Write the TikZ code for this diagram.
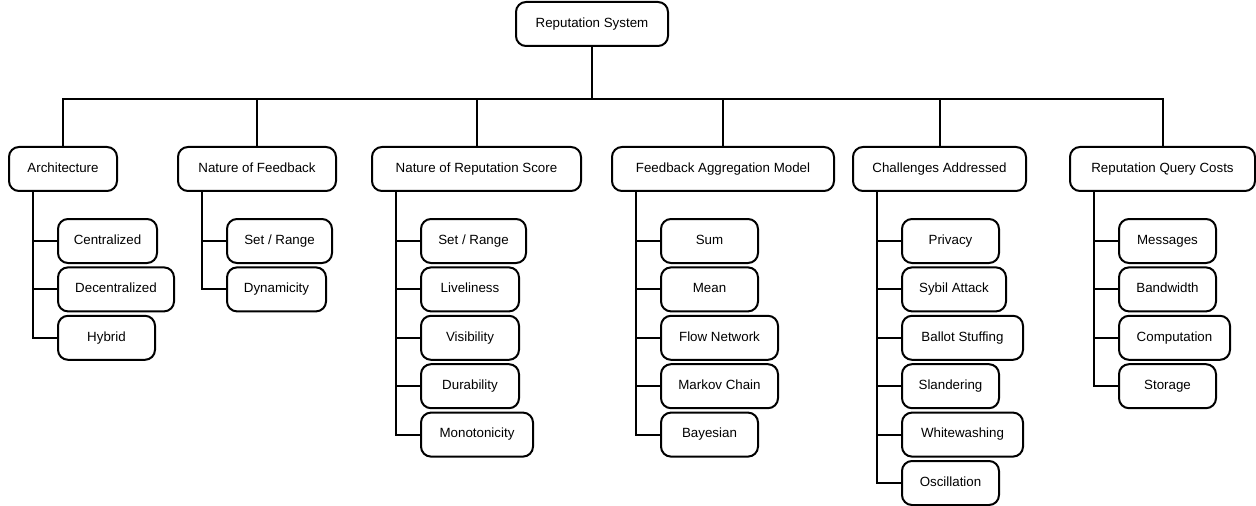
\documentclass[tikz,border=0pt]{standalone}
\usepackage{fontspec}
\setmainfont{Liberation Sans}
\usepackage{tikz}
\usetikzlibrary{positioning}

\tikzset{
  box/.style={draw, line width=1.5pt, rounded corners=7.5pt,
    minimum height=33pt, inner sep=0pt, text height=7.2pt, text depth=2.2pt,
    font=\fontsize{10}{12}\selectfont},
  leaf/.style={box, anchor=west},
  link/.style={line width=1.5pt}
}

\begin{document}
\begin{tikzpicture}[x=0.75pt, y=-0.75pt]
  \useasboundingbox (0,0) rectangle (1256,506);

  % Root
  \node[box, minimum width=114pt] (root) at (592,24) {Reputation System};
  \coordinate (bus) at (592,99);

  % Categories
  \node[box, minimum width=81pt]     (arch) at (63,169)    {Architecture};
  \node[box, minimum width=118.5pt]  (fb)   at (257,169)   {Nature of Feedback};
  \node[box, minimum width=156.75pt] (rs)   at (476.5,169) {Nature of Reputation Score};
  \node[box, minimum width=166.5pt]  (agg)  at (723,169)   {Feedback Aggregation Model};
  \node[box, minimum width=129.75pt] (chal) at (939.5,169) {Challenges Addressed};
  \node[box, minimum width=138.75pt] (cost) at (1162.5,169){Reputation Query Costs};

  % Tree bus
  \draw[link] (root.south) -- (bus);
  \foreach \p in {arch,fb,rs,agg,chal,cost}
    \draw[link] (\p.north) |- (bus);

  % Architecture
  \foreach \t/\w [count=\i] in {Centralized/99, Decentralized/116, Hybrid/97}
    \node[leaf, minimum width=\w*0.75pt] (arch-\i) at (57,{241+48.4*(\i-1)}) {\t};
  \foreach \i in {1,...,3}
    \draw[link] ([xshift=18.75pt]arch.south west) |- (arch-\i.west);

  % Nature of Feedback
  \foreach \t/\w [count=\i] in {{Set / Range}/105, Dynamicity/99}
    \node[leaf, minimum width=\w*0.75pt] (fb-\i) at (226,{241+48.4*(\i-1)}) {\t};
  \foreach \i in {1,2}
    \draw[link] ([xshift=18.75pt]fb.south west) |- (fb-\i.west);

  % Nature of Reputation Score
  \foreach \t/\w [count=\i] in {{Set / Range}/105, Liveliness/98, Visibility/98,
      Durability/98, Monotonicity/112}
    \node[leaf, minimum width=\w*0.75pt] (rs-\i) at (420,{241+48.4*(\i-1)}) {\t};
  \foreach \i in {1,...,5}
    \draw[link] ([xshift=18.75pt]rs.south west) |- (rs-\i.west);

  % Feedback Aggregation Model
  \foreach \t/\w [count=\i] in {Sum/97, Mean/97, Flow Network/117,
      Markov Chain/117, Bayesian/97}
    \node[leaf, minimum width=\w*0.75pt] (agg-\i) at (660,{241+48.4*(\i-1)}) {\t};
  \foreach \i in {1,...,5}
    \draw[link] ([xshift=18.75pt]agg.south west) |- (agg-\i.west);

  % Challenges Addressed
  \foreach \t/\w [count=\i] in {Privacy/97, Sybil Attack/104, Ballot Stuffing/121,
      Slandering/97, Whitewashing/121, Oscillation/97}
    \node[leaf, minimum width=\w*0.75pt] (chal-\i) at (901,{241+48.4*(\i-1)}) {\t};
  \foreach \i in {1,...,6}
    \draw[link] ([xshift=18.75pt]chal.south west) |- (chal-\i.west);

  % Reputation Query Costs
  \foreach \t/\w [count=\i] in {Messages/97, Bandwidth/97, Computation/111, Storage/97}
    \node[leaf, minimum width=\w*0.75pt] (cost-\i) at (1118,{241+48.4*(\i-1)}) {\t};
  \foreach \i in {1,...,4}
    \draw[link] ([xshift=18.75pt]cost.south west) |- (cost-\i.west);
\end{tikzpicture}
\end{document}
